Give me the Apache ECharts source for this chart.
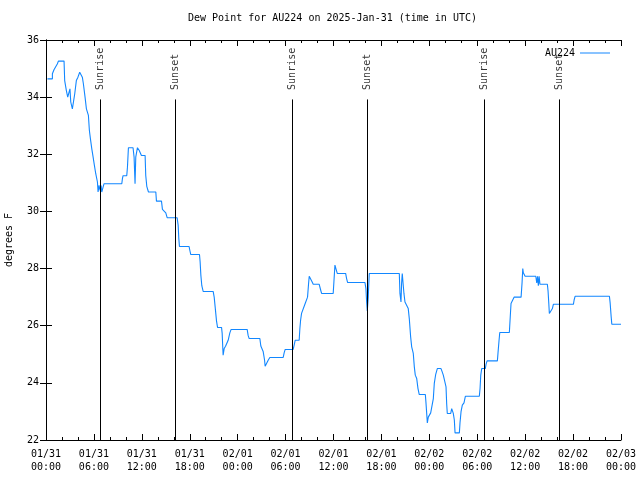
<!DOCTYPE html>
<html>
<head>
<meta charset="utf-8">
<script src="https://cdn.jsdelivr.net/npm/echarts@6/dist/echarts.min.js"></script>
<style>html,body{margin:0;padding:0;background:#fff}#c{width:640px;height:480px}</style>
</head>
<body>
<div id="c"></div>
<script>
// Hours since 2025-01-31 00:00 UTC
const hours = [
0.18,0.8,0.8,1.0,1.22,1.43,1.55,2.26,2.34,2.55,2.72,2.88,2.95,3.0,3.1,3.3,3.5,3.6,3.8,4.0,4.22,4.43,4.55,4.68,4.89,5.06,5.31,5.43,5.56,5.73,5.9,6.06,6.23,6.44,6.52,6.64,6.77,6.9,6.98,7.15,7.27,9.49,9.57,9.65,10.11,10.2,10.32,10.9,11.03,11.15,11.24,11.45,11.66,11.95,12.41,12.49,12.62,12.83,13.75,
13.83,14.46,14.58,15.0,15.17,16.42,16.55,16.63,16.71,17.92,18.0,18.13,19.22,19.3,19.39,19.51,19.68,20.93,21.06,21.18,21.35,21.48,21.98,22.06,22.14,22.18,22.31,22.48,22.68,22.81,23.02,23.18,25.19,25.31,25.44,26.78,26.9,27.03,27.19,27.37,27.44,27.69,27.82,28.03,
29.7,29.82,29.95,30.95,31.08,31.2,31.7,31.79,31.88,32.0,32.2,32.42,32.63,32.75,32.88,32.96,33.17,33.33,33.46,34.21,34.39,34.51,35.96,36.05,36.18,36.3,36.47,37.52,37.64,37.77,39.94,40.06,40.15,40.23,40.35,40.41,40.48,
44.24,44.32,44.41,44.45,44.53,44.61,44.74,44.82,44.95,45.16,45.36,45.49,45.66,45.79,45.99,46.12,46.24,46.42,46.58,46.74,47.5,47.58,47.67,47.75,47.87,48.0,48.17,48.33,48.5,48.62,48.8,49.0,49.46,49.59,49.75,49.96,50.09,50.17,50.25,50.68,50.8,50.88,50.93,51.0,51.13,51.22,51.76,
51.84,51.97,52.13,52.34,52.51,54.26,54.35,54.44,54.56,55.01,55.1,55.23,56.52,56.6,56.73,56.82,58.02,58.15,58.23,58.45,58.61,59.49,59.61,59.7,59.77,59.86,59.99,61.33,
61.45,61.55,61.65,61.75,61.85,62.78,62.87,62.96,63.03,63.28,63.41,63.53,66.04,66.13,66.25,70.55,70.64,70.77,70.85,72.0
];
const dewF = [
34.64,34.64,34.82,34.96,35.0,35.17,35.26,35.26,34.58,34.23,34.0,34.17,34.1,34.29,33.83,33.59,33.59,34.12,34.58,34.70,34.87,34.87,34.7,34.47,34.0,33.59,33.36,32.84,32.55,32.2,31.9,31.61,31.32,31.03,30.68,30.91,30.74,30.91,30.68,30.85,30.97,30.97,31.15,31.25,31.25,31.55,32.23,32.23,31.9,30.97,31.9,32.23,32.14,31.96,31.96,31.26,30.88,30.68,30.68,
30.36,30.36,30.07,29.95,29.78,29.78,29.51,29.05,28.77,28.77,28.65,28.49,28.49,28.23,27.77,27.4,27.2,27.2,27.0,26.66,26.17,25.94,25.94,25.73,25.2,24.97,25.2,25.28,25.35,25.49,25.75,25.87,25.87,25.66,25.55,25.55,25.29,25.29,25.1,24.79,24.58,24.58,24.79,24.89,
24.89,25.05,25.17,25.17,25.33,25.49,25.49,25.9,26.19,26.43,26.45,26.75,26.8,27.0,27.48,27.73,27.73,27.53,27.45,27.45,27.25,27.13,27.13,27.53,28.12,28.0,27.83,27.83,27.65,27.51,27.51,27.3,26.83,26.52,27.0,27.4,27.83,
27.83,27.13,27.13,26.83,27.5,27.83,27.83,27.13,26.83,26.8,26.6,26.25,25.61,25.26,25.03,24.56,24.27,24.15,23.8,23.59,23.59,23.3,22.93,22.6,22.8,22.87,22.95,23.02,23.45,23.98,24.3,24.5,24.5,24.4,24.27,24.2,23.86,23.28,22.93,22.93,23.1,23.16,23.16,22.93,22.7,22.25,22.25,
22.6,22.99,23.22,23.3,23.53,23.53,23.8,24.27,24.5,24.5,24.65,24.77,24.77,25.05,25.49,25.76,25.76,26.4,26.78,26.85,27.0,27.0,27.5,28.0,27.85,27.9,27.73,27.73,
27.5,27.73,27.4,27.73,27.45,27.45,27.2,26.78,26.43,26.43,26.6,26.75,26.75,26.9,27.03,27.03,26.8,26.31,26.05,26.05
];
const sunHours = [6.85, 16.17, 30.83, 40.2, 54.9, 64.3];
const sunNames = ['Sunrise', 'Sunset', 'Sunrise', 'Sunset', 'Sunrise', 'Sunset'];
const sunLineTop = 33.92;
const xTickLabels = ['01/31\n00:00','01/31\n06:00','01/31\n12:00','01/31\n18:00','02/01\n00:00','02/01\n06:00','02/01\n12:00','02/01\n18:00','02/02\n00:00','02/02\n06:00','02/02\n12:00','02/02\n18:00','02/03\n00:00'];
const seriesName = 'AU224';
const titleText = 'Dew Point for AU224 on 2025-Jan-31 (time in UTC)';
const yName = 'degrees F';

const FONT = 'DejaVu Sans Mono';
const LINE_COLOR = '#1287ff';
const chart = echarts.init(document.getElementById('c'), null, {renderer: 'canvas'});
const axisLine = {show: true, lineStyle: {color: '#000', width: 1}};
const xBase = {
  type: 'value', min: 0, max: 72, interval: 6,
  axisLine: axisLine,
  axisTick: {show: true, inside: true, length: 6, lineStyle: {color: '#000'}},
  minorTick: {show: true, splitNumber: 3, length: 3, lineStyle: {color: '#000'}},
  splitLine: {show: false}, minorSplitLine: {show: false}
};
const yBase = {
  type: 'value', min: 22, max: 36, interval: 2,
  axisLine: axisLine,
  axisTick: {show: true, inside: true, length: 6, lineStyle: {color: '#000'}},
  splitLine: {show: false}
};
const lineData = hours.map((h, i) => [h, dewF[i]]);
chart.setOption({
  animation: false,
  backgroundColor: '#fff',
  title: {
    text: titleText, left: 188, top: 13, padding: 0,
    textStyle: {fontFamily: FONT, fontSize: 10, fontWeight: 'normal', color: '#000'}
  },
  legend: {
    data: [{name: seriesName, icon: 'rect'}], right: 25, top: 43, align: 'right', itemWidth: 30, itemHeight: 1,
    itemStyle: {color: LINE_COLOR},
    textStyle: {fontFamily: FONT, fontSize: 10, color: '#000'}
  },
  grid: {left: 46, right: 19, top: 40, bottom: 40, containLabel: false, outerBoundsMode: 'none'},
  xAxis: [
    Object.assign({}, xBase, {
      position: 'bottom',
      axisLabel: {
        fontFamily: FONT, fontSize: 10, color: '#000', margin: 8, lineHeight: 13,
        formatter: v => xTickLabels[Math.round(v / 6)]
      }
    }),
    Object.assign({}, xBase, {position: 'top', axisLabel: {show: false}})
  ],
  yAxis: [
    Object.assign({}, yBase, {
      position: 'left',
      name: yName, nameLocation: 'middle', nameGap: 32, nameRotate: 90,
      nameTextStyle: {fontFamily: FONT, fontSize: 10, color: '#000'},
      axisLabel: {fontFamily: FONT, fontSize: 10, color: '#000', margin: 7}
    }),
    Object.assign({}, yBase, {position: 'right', axisLabel: {show: false}})
  ],
  series: [
    {
      name: seriesName, type: 'line', data: lineData,
      symbol: 'none', lineStyle: {color: LINE_COLOR, width: 1.1}, itemStyle: {color: LINE_COLOR},
      markLine: {
        silent: true, symbol: 'none', animation: false,
        label: {show: false},
        lineStyle: {color: '#000', width: 1, type: 'solid'},
        data: sunHours.map(h => [{coord: [h, 22]}, {coord: [h, sunLineTop]}])
      }
    },
    {
      name: 'sun', type: 'scatter', symbolSize: 1, silent: true,
      itemStyle: {color: 'rgba(0,0,0,0)'},
      data: sunHours.map((h, i) => ({value: [h, sunLineTop], name: sunNames[i]})),
      label: {
        show: true, position: 'top', distance: 7, rotate: 90, align: 'left', verticalAlign: 'middle',
        offset: [2, 0],
        formatter: p => p.name,
        fontFamily: FONT, fontSize: 10, color: '#000'
      }
    }
  ]
});
</script>
</body>
</html>
